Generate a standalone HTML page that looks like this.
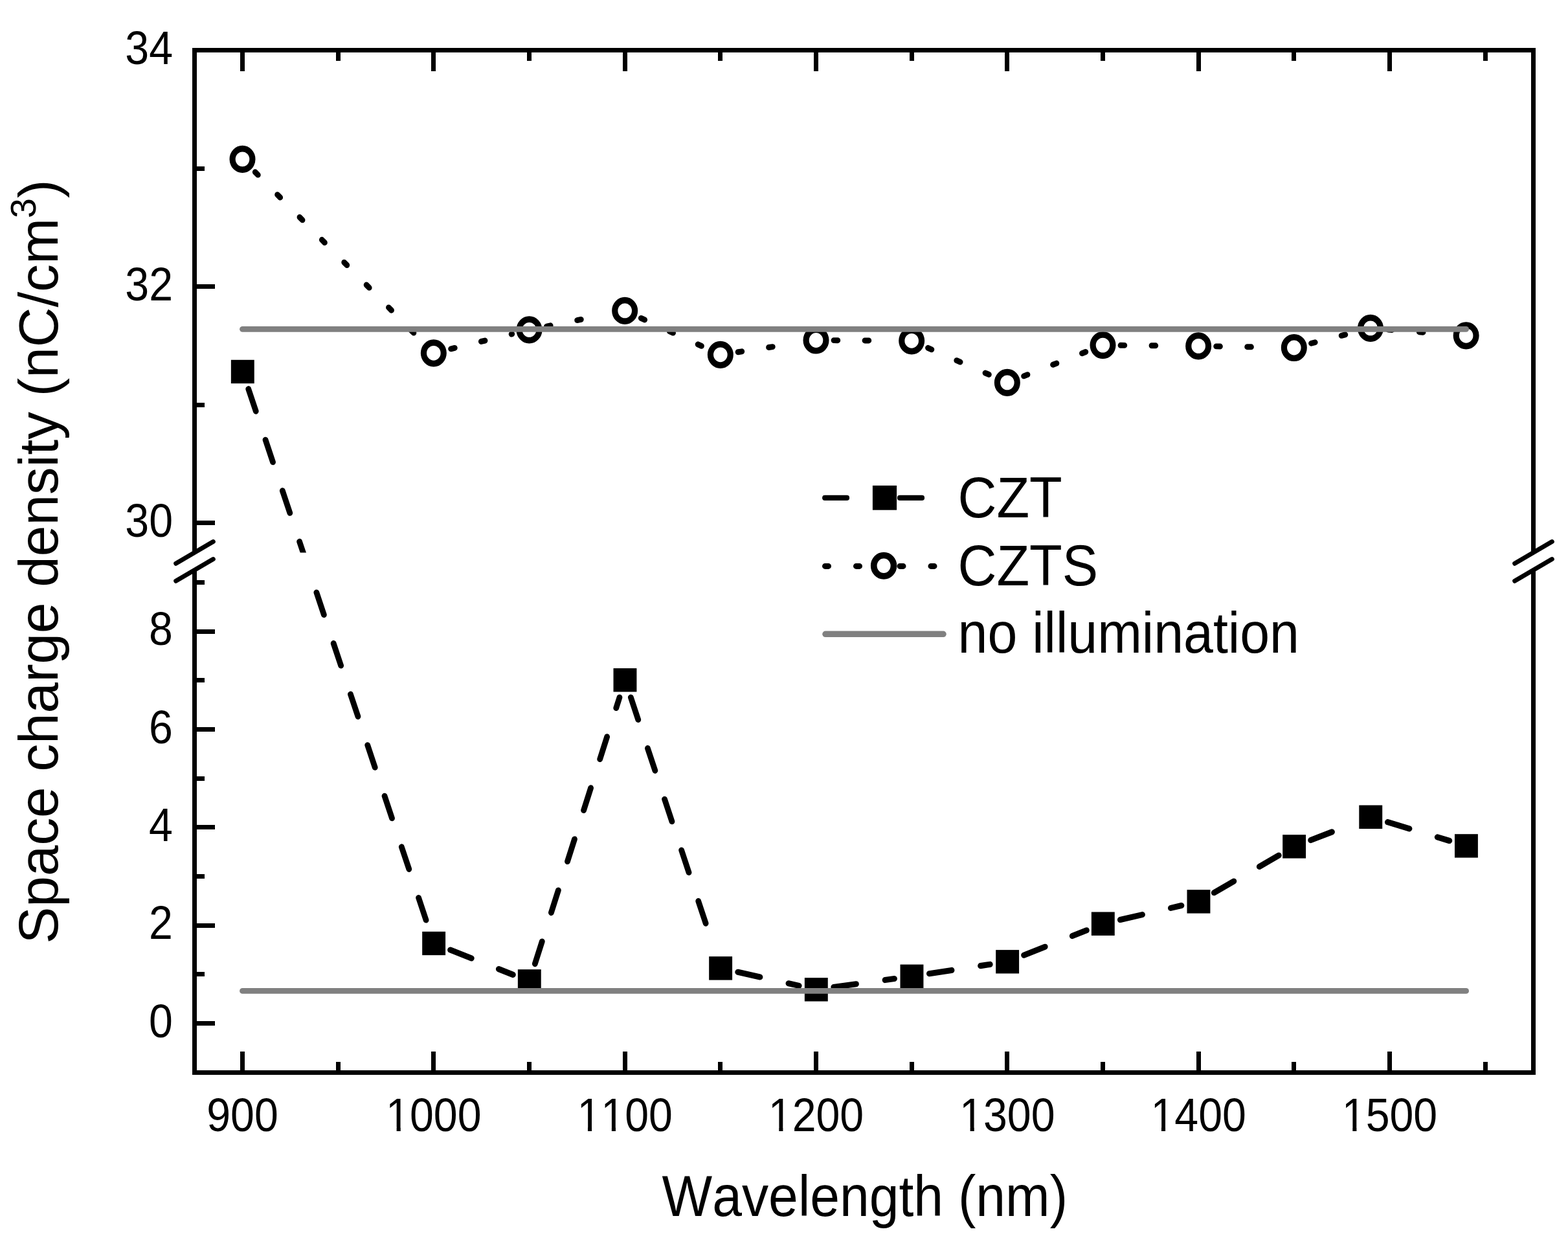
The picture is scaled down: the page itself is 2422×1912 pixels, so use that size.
<!DOCTYPE html><html><head><meta charset="utf-8"><style>html,body{margin:0;padding:0;background:#fff;}svg{display:block;}</style></head><body><svg width="2422" height="1912" viewBox="0 0 2422 1912">
<defs><clipPath id="brk"><rect x="0" y="0" width="2422" height="853.6"/><rect x="0" y="880.3" width="2422" height="1100"/></clipPath></defs>
<rect x="0" y="0" width="2422" height="1912" fill="#fff"/>
<g clip-path="url(#brk)"><g transform="scale(1,1.04)">
<path d="M383.74 577.61L661.20 1375.27" fill="none" stroke="#000" stroke-width="8.8" stroke-linecap="round" stroke-dasharray="35 45"/>
<path d="M695.56 1410.63L792.38 1447.45" fill="none" stroke="#000" stroke-width="8.8" stroke-linecap="round" stroke-dasharray="35 45"/>
<path d="M826.33 1431.29L956.94 1035.73" fill="none" stroke="#000" stroke-width="8.8" stroke-linecap="round" stroke-dasharray="35 45"/>
<path d="M974.34 1035.62L1104.26 1412.17" fill="none" stroke="#000" stroke-width="8.8" stroke-linecap="round" stroke-dasharray="35 45"/>
<path d="M1139.73 1443.58L1234.20 1463.82" fill="none" stroke="#000" stroke-width="8.8" stroke-linecap="round" stroke-dasharray="35 45"/>
<path d="M1287.76 1465.92L1381.50 1453.41" fill="none" stroke="#000" stroke-width="8.8" stroke-linecap="round" stroke-dasharray="35 45"/>
<path d="M1435.38 1445.86L1529.22 1432.12" fill="none" stroke="#000" stroke-width="8.8" stroke-linecap="round" stroke-dasharray="35 45"/>
<path d="M1581.54 1418.48L1678.39 1381.52" fill="none" stroke="#000" stroke-width="8.8" stroke-linecap="round" stroke-dasharray="35 45"/>
<path d="M1730.34 1365.90L1824.92 1344.78" fill="none" stroke="#000" stroke-width="8.8" stroke-linecap="round" stroke-dasharray="35 45"/>
<path d="M1875.26 1325.67L1975.33 1270.29" fill="none" stroke="#000" stroke-width="8.8" stroke-linecap="round" stroke-dasharray="35 45"/>
<path d="M2024.63 1247.65L2091.76 1222.73" fill="none" stroke="#000" stroke-width="8.8" stroke-linecap="round" stroke-dasharray="35 45"/>
<path d="M2143.39 1220.86L2238.81 1248.57" fill="none" stroke="#000" stroke-width="8.8" stroke-linecap="round" stroke-dasharray="35 45"/>
</g></g>
<rect x="356.85" y="555.80" width="35.9" height="36.4" fill="#000"/>
<rect x="652.18" y="1438.80" width="35.9" height="36.4" fill="#000"/>
<rect x="799.85" y="1497.20" width="35.9" height="36.4" fill="#000"/>
<rect x="947.52" y="1032.10" width="35.9" height="36.4" fill="#000"/>
<rect x="1095.18" y="1477.20" width="35.9" height="36.4" fill="#000"/>
<rect x="1242.85" y="1510.10" width="35.9" height="36.4" fill="#000"/>
<rect x="1390.52" y="1489.60" width="35.9" height="36.4" fill="#000"/>
<rect x="1538.18" y="1467.10" width="35.9" height="36.4" fill="#000"/>
<rect x="1685.85" y="1408.50" width="35.9" height="36.4" fill="#000"/>
<rect x="1833.51" y="1374.20" width="35.9" height="36.4" fill="#000"/>
<rect x="1981.18" y="1289.20" width="35.9" height="36.4" fill="#000"/>
<rect x="2099.31" y="1243.60" width="35.9" height="36.4" fill="#000"/>
<rect x="2246.98" y="1288.20" width="35.9" height="36.4" fill="#000"/>
<g transform="scale(1,1.04)">
<path d="M394.12 255.57L650.21 505.20" fill="none" stroke="#000" stroke-width="8.6" stroke-linecap="round" stroke-dasharray="6 42"/>
<path d="M696.51 518.09L790.82 496.04" fill="none" stroke="#000" stroke-width="8.6" stroke-linecap="round" stroke-dasharray="6 42"/>
<path d="M844.41 484.64L938.26 466.61" fill="none" stroke="#000" stroke-width="8.6" stroke-linecap="round" stroke-dasharray="6 42"/>
<path d="M990.23 472.52L1087.77 515.65" fill="none" stroke="#000" stroke-width="8.6" stroke-linecap="round" stroke-dasharray="6 42"/>
<path d="M1139.95 522.79L1233.38 509.23" fill="none" stroke="#000" stroke-width="8.6" stroke-linecap="round" stroke-dasharray="6 42"/>
<path d="M1287.90 505.43L1380.77 505.91" fill="none" stroke="#000" stroke-width="8.6" stroke-linecap="round" stroke-dasharray="6 42"/>
<path d="M1433.42 516.68L1530.58 557.55" fill="none" stroke="#000" stroke-width="8.6" stroke-linecap="round" stroke-dasharray="6 42"/>
<path d="M1581.48 558.52L1677.85 522.25" fill="none" stroke="#000" stroke-width="8.6" stroke-linecap="round" stroke-dasharray="6 42"/>
<path d="M1730.90 512.83L1823.77 513.61" fill="none" stroke="#000" stroke-width="8.6" stroke-linecap="round" stroke-dasharray="6 42"/>
<path d="M1878.56 514.31L1971.44 515.88" fill="none" stroke="#000" stroke-width="8.6" stroke-linecap="round" stroke-dasharray="6 42"/>
<path d="M2025.44 509.83L2090.35 493.92" fill="none" stroke="#000" stroke-width="8.6" stroke-linecap="round" stroke-dasharray="6 42"/>
<path d="M2144.29 489.43L2237.31 496.34" fill="none" stroke="#000" stroke-width="8.6" stroke-linecap="round" stroke-dasharray="6 42"/>
</g>
<circle transform="translate(374.50,245.90) scale(1,1.055)" r="15.4" fill="#fff" stroke="#000" stroke-width="9.2"/>
<circle transform="translate(669.83,545.30) scale(1,1.055)" r="15.4" fill="#fff" stroke="#000" stroke-width="9.2"/>
<circle transform="translate(817.50,509.40) scale(1,1.055)" r="15.4" fill="#fff" stroke="#000" stroke-width="9.2"/>
<circle transform="translate(965.17,479.90) scale(1,1.055)" r="15.4" fill="#fff" stroke="#000" stroke-width="9.2"/>
<circle transform="translate(1112.83,547.80) scale(1,1.055)" r="15.4" fill="#fff" stroke="#000" stroke-width="9.2"/>
<circle transform="translate(1260.50,525.50) scale(1,1.055)" r="15.4" fill="#fff" stroke="#000" stroke-width="9.2"/>
<circle transform="translate(1408.17,526.30) scale(1,1.055)" r="15.4" fill="#fff" stroke="#000" stroke-width="9.2"/>
<circle transform="translate(1555.83,590.90) scale(1,1.055)" r="15.4" fill="#fff" stroke="#000" stroke-width="9.2"/>
<circle transform="translate(1703.50,533.10) scale(1,1.055)" r="15.4" fill="#fff" stroke="#000" stroke-width="9.2"/>
<circle transform="translate(1851.16,534.40) scale(1,1.055)" r="15.4" fill="#fff" stroke="#000" stroke-width="9.2"/>
<circle transform="translate(1998.83,537.00) scale(1,1.055)" r="15.4" fill="#fff" stroke="#000" stroke-width="9.2"/>
<circle transform="translate(2116.96,506.90) scale(1,1.055)" r="15.4" fill="#fff" stroke="#000" stroke-width="9.2"/>
<circle transform="translate(2264.63,518.30) scale(1,1.055)" r="15.4" fill="#fff" stroke="#000" stroke-width="9.2"/>
<line x1="374.5" y1="508.3" x2="2264.6" y2="508.3" stroke="#808080" stroke-width="8.8" stroke-linecap="round"/>
<line x1="374.5" y1="1530.4" x2="2264.6" y2="1530.4" stroke="#808080" stroke-width="8.8" stroke-linecap="round"/>
<line x1="297" y1="77.5" x2="2372" y2="77.5" stroke="#000" stroke-width="7"/>
<line x1="297" y1="1656.5" x2="2372" y2="1656.5" stroke="#000" stroke-width="7"/>
<line x1="300.5" y1="74" x2="300.5" y2="853.45" stroke="#000" stroke-width="7"/>
<line x1="300.5" y1="880.45" x2="300.5" y2="1660" stroke="#000" stroke-width="7"/>
<line x1="271.7" y1="870.3000000000001" x2="329.3" y2="836.6" stroke="#000" stroke-width="7" stroke-linecap="round"/>
<line x1="271.7" y1="897.3000000000001" x2="329.3" y2="863.6" stroke="#000" stroke-width="7" stroke-linecap="round"/>
<line x1="2368.5" y1="74" x2="2368.5" y2="853.45" stroke="#000" stroke-width="7"/>
<line x1="2368.5" y1="880.45" x2="2368.5" y2="1660" stroke="#000" stroke-width="7"/>
<line x1="2339.7" y1="870.3000000000001" x2="2397.3" y2="836.6" stroke="#000" stroke-width="7" stroke-linecap="round"/>
<line x1="2339.7" y1="897.3000000000001" x2="2397.3" y2="863.6" stroke="#000" stroke-width="7" stroke-linecap="round"/>
<line x1="374.50" y1="81" x2="374.50" y2="110" stroke="#000" stroke-width="7"/>
<line x1="374.50" y1="1653" x2="374.50" y2="1624" stroke="#000" stroke-width="7"/>
<line x1="669.50" y1="81" x2="669.50" y2="110" stroke="#000" stroke-width="7"/>
<line x1="669.50" y1="1653" x2="669.50" y2="1624" stroke="#000" stroke-width="7"/>
<line x1="965.50" y1="81" x2="965.50" y2="110" stroke="#000" stroke-width="7"/>
<line x1="965.50" y1="1653" x2="965.50" y2="1624" stroke="#000" stroke-width="7"/>
<line x1="1260.50" y1="81" x2="1260.50" y2="110" stroke="#000" stroke-width="7"/>
<line x1="1260.50" y1="1653" x2="1260.50" y2="1624" stroke="#000" stroke-width="7"/>
<line x1="1555.50" y1="81" x2="1555.50" y2="110" stroke="#000" stroke-width="7"/>
<line x1="1555.50" y1="1653" x2="1555.50" y2="1624" stroke="#000" stroke-width="7"/>
<line x1="1851.50" y1="81" x2="1851.50" y2="110" stroke="#000" stroke-width="7"/>
<line x1="1851.50" y1="1653" x2="1851.50" y2="1624" stroke="#000" stroke-width="7"/>
<line x1="2146.50" y1="81" x2="2146.50" y2="110" stroke="#000" stroke-width="7"/>
<line x1="2146.50" y1="1653" x2="2146.50" y2="1624" stroke="#000" stroke-width="7"/>
<line x1="522.50" y1="81" x2="522.50" y2="94" stroke="#000" stroke-width="7"/>
<line x1="522.50" y1="1653" x2="522.50" y2="1640" stroke="#000" stroke-width="7"/>
<line x1="817.50" y1="81" x2="817.50" y2="94" stroke="#000" stroke-width="7"/>
<line x1="817.50" y1="1653" x2="817.50" y2="1640" stroke="#000" stroke-width="7"/>
<line x1="1112.50" y1="81" x2="1112.50" y2="94" stroke="#000" stroke-width="7"/>
<line x1="1112.50" y1="1653" x2="1112.50" y2="1640" stroke="#000" stroke-width="7"/>
<line x1="1408.50" y1="81" x2="1408.50" y2="94" stroke="#000" stroke-width="7"/>
<line x1="1408.50" y1="1653" x2="1408.50" y2="1640" stroke="#000" stroke-width="7"/>
<line x1="1703.50" y1="81" x2="1703.50" y2="94" stroke="#000" stroke-width="7"/>
<line x1="1703.50" y1="1653" x2="1703.50" y2="1640" stroke="#000" stroke-width="7"/>
<line x1="1998.50" y1="81" x2="1998.50" y2="94" stroke="#000" stroke-width="7"/>
<line x1="1998.50" y1="1653" x2="1998.50" y2="1640" stroke="#000" stroke-width="7"/>
<line x1="2294.50" y1="81" x2="2294.50" y2="94" stroke="#000" stroke-width="7"/>
<line x1="2294.50" y1="1653" x2="2294.50" y2="1640" stroke="#000" stroke-width="7"/>
<line x1="304" y1="260.50" x2="316" y2="260.50" stroke="#000" stroke-width="7"/>
<line x1="304" y1="442.50" x2="332" y2="442.50" stroke="#000" stroke-width="7"/>
<line x1="304" y1="625.50" x2="316" y2="625.50" stroke="#000" stroke-width="7"/>
<line x1="304" y1="807.50" x2="332" y2="807.50" stroke="#000" stroke-width="7"/>
<line x1="304" y1="1580.50" x2="332" y2="1580.50" stroke="#000" stroke-width="7"/>
<line x1="304" y1="1504.50" x2="316" y2="1504.50" stroke="#000" stroke-width="7"/>
<line x1="304" y1="1429.50" x2="332" y2="1429.50" stroke="#000" stroke-width="7"/>
<line x1="304" y1="1353.50" x2="316" y2="1353.50" stroke="#000" stroke-width="7"/>
<line x1="304" y1="1277.50" x2="332" y2="1277.50" stroke="#000" stroke-width="7"/>
<line x1="304" y1="1202.50" x2="316" y2="1202.50" stroke="#000" stroke-width="7"/>
<line x1="304" y1="1126.50" x2="332" y2="1126.50" stroke="#000" stroke-width="7"/>
<line x1="304" y1="1050.50" x2="316" y2="1050.50" stroke="#000" stroke-width="7"/>
<line x1="304" y1="975.50" x2="332" y2="975.50" stroke="#000" stroke-width="7"/>
<line x1="304" y1="899.50" x2="316" y2="899.50" stroke="#000" stroke-width="7"/>
<text transform="translate(267.00,98.80) scale(1,1.083)" font-size="66.3" text-anchor="end" font-family="Liberation Sans, Arial, sans-serif" style="font-kerning:none">34</text>
<text transform="translate(267.00,463.80) scale(1,1.083)" font-size="66.3" text-anchor="end" font-family="Liberation Sans, Arial, sans-serif" style="font-kerning:none">32</text>
<text transform="translate(267.00,828.80) scale(1,1.083)" font-size="66.3" text-anchor="end" font-family="Liberation Sans, Arial, sans-serif" style="font-kerning:none">30</text>
<text transform="translate(267.00,1601.70) scale(1,1.083)" font-size="66.3" text-anchor="end" font-family="Liberation Sans, Arial, sans-serif" style="font-kerning:none">0</text>
<text transform="translate(267.00,1450.35) scale(1,1.083)" font-size="66.3" text-anchor="end" font-family="Liberation Sans, Arial, sans-serif" style="font-kerning:none">2</text>
<text transform="translate(267.00,1299.00) scale(1,1.083)" font-size="66.3" text-anchor="end" font-family="Liberation Sans, Arial, sans-serif" style="font-kerning:none">4</text>
<text transform="translate(267.00,1147.65) scale(1,1.083)" font-size="66.3" text-anchor="end" font-family="Liberation Sans, Arial, sans-serif" style="font-kerning:none">6</text>
<text transform="translate(267.00,996.30) scale(1,1.083)" font-size="66.3" text-anchor="end" font-family="Liberation Sans, Arial, sans-serif" style="font-kerning:none">8</text>
<text transform="translate(374.50,1746.70) scale(1,1.083)" font-size="66.3" text-anchor="middle" font-family="Liberation Sans, Arial, sans-serif" style="font-kerning:none">900</text>
<text transform="translate(669.83,1746.70) scale(1,1.083)" font-size="66.3" text-anchor="middle" font-family="Liberation Sans, Arial, sans-serif" style="font-kerning:none">1000</text>
<text transform="translate(965.17,1746.70) scale(1,1.083)" font-size="66.3" text-anchor="middle" font-family="Liberation Sans, Arial, sans-serif" style="font-kerning:none">1100</text>
<text transform="translate(1260.50,1746.70) scale(1,1.083)" font-size="66.3" text-anchor="middle" font-family="Liberation Sans, Arial, sans-serif" style="font-kerning:none">1200</text>
<text transform="translate(1555.83,1746.70) scale(1,1.083)" font-size="66.3" text-anchor="middle" font-family="Liberation Sans, Arial, sans-serif" style="font-kerning:none">1300</text>
<text transform="translate(1851.17,1746.70) scale(1,1.083)" font-size="66.3" text-anchor="middle" font-family="Liberation Sans, Arial, sans-serif" style="font-kerning:none">1400</text>
<text transform="translate(2146.50,1746.70) scale(1,1.083)" font-size="66.3" text-anchor="middle" font-family="Liberation Sans, Arial, sans-serif" style="font-kerning:none">1500</text>
<rect x="599.32" y="1740.74" width="13.31" height="7.46" fill="#fff"/>
<rect x="618.75" y="1740.74" width="13.27" height="7.46" fill="#fff"/>
<rect x="894.66" y="1740.74" width="13.31" height="7.46" fill="#fff"/>
<rect x="914.08" y="1740.74" width="13.27" height="7.46" fill="#fff"/>
<rect x="931.53" y="1740.74" width="13.31" height="7.46" fill="#fff"/>
<rect x="950.95" y="1740.74" width="13.27" height="7.46" fill="#fff"/>
<rect x="1189.99" y="1740.74" width="13.31" height="7.46" fill="#fff"/>
<rect x="1209.41" y="1740.74" width="13.27" height="7.46" fill="#fff"/>
<rect x="1485.32" y="1740.74" width="13.31" height="7.46" fill="#fff"/>
<rect x="1504.75" y="1740.74" width="13.27" height="7.46" fill="#fff"/>
<rect x="1780.66" y="1740.74" width="13.31" height="7.46" fill="#fff"/>
<rect x="1800.08" y="1740.74" width="13.27" height="7.46" fill="#fff"/>
<rect x="2075.99" y="1740.74" width="13.31" height="7.46" fill="#fff"/>
<rect x="2095.41" y="1740.74" width="13.27" height="7.46" fill="#fff"/>
<text transform="translate(1335.80,1878.10) scale(1,1.083)" font-size="82.3" text-anchor="middle" font-family="Liberation Sans, Arial, sans-serif" style="font-kerning:none">Wavelength (nm)</text>
<text transform="translate(89.2,867.6) rotate(-90)" font-size="85.45" text-anchor="middle" font-family="Liberation Sans, Arial, sans-serif" style="font-kerning:none">Space charge density (nC/cm<tspan font-size="55.5" dy="-34.5">3</tspan><tspan dy="34.5">)</tspan></text>
<text transform="translate(1479.50,799.00) scale(1,1.083)" font-size="83" text-anchor="start" font-family="Liberation Sans, Arial, sans-serif" style="font-kerning:none">CZT</text>
<text transform="translate(1479.50,903.80) scale(1,1.083)" font-size="83" text-anchor="start" font-family="Liberation Sans, Arial, sans-serif" style="font-kerning:none">CZTS</text>
<text transform="translate(1479.60,1008.40) scale(1,1.083)" font-size="82.5" text-anchor="start" font-family="Liberation Sans, Arial, sans-serif" style="font-kerning:none">no illumination</text>
<path d="M1274.1 768.9H1308M1390 768.9H1424" stroke="#000" stroke-width="8.2" stroke-linecap="round"/>
<rect x="1347.9" y="749.9" width="37.2" height="37.8" fill="#000"/>
<path d="M1274.5 874.4H1279.5M1322.5 874.4H1327.5M1390 874.4H1395M1438 874.4H1443" stroke="#000" stroke-width="9" stroke-linecap="round"/>
<ellipse cx="1365.1" cy="873.8" rx="15.35" ry="16.1" fill="#fff" stroke="#000" stroke-width="9.7"/>
<line x1="1275" y1="979.3" x2="1457" y2="979.3" stroke="#808080" stroke-width="9.5" stroke-linecap="round"/>
</svg></body></html>
